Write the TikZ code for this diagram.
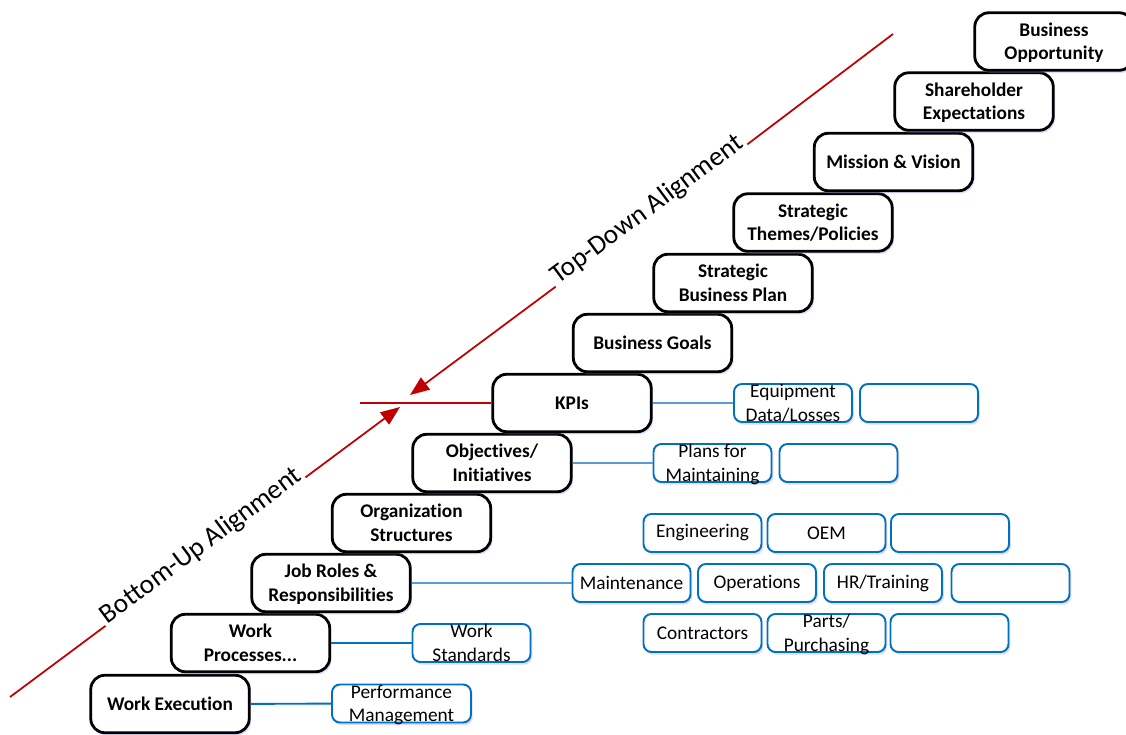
\documentclass[tikz,border=0pt]{standalone}
\usepackage{fontspec}
\setmainfont{Carlito}[Ligatures=NoCommon]
\usepackage{xcolor}
\usepackage{tikz}
\usetikzlibrary{arrows.meta, shadows}

\definecolor{alignred}{RGB}{192,0,0}
\definecolor{infoblue}{RGB}{0,112,192}
\definecolor{linkblue}{RGB}{91,155,213}

% two lines of text, centred on the box whatever the box height
\newcommand{\twolines}[2]{\smash{\raisebox{3pt}{\begin{tabular}[t]{@{}c@{}}#1\\#2\end{tabular}}}}

\begin{document}
\begin{tikzpicture}[x=0.02cm, y=-0.02cm, >={Triangle[length=11pt, width=8.5pt]},
  stair/.style={draw, line width=1.6pt, rounded corners=8pt, fill=white,
    minimum width=3.17cm, minimum height=1.15cm, inner sep=0pt,
    font=\fontsize{11}{13.5}\selectfont\bfseries,
    drop shadow={shadow xshift=1pt, shadow yshift=-1.5pt, fill=blue!45, opacity=.3}},
  infobox/.style={draw=infoblue, line width=1.1pt, rounded corners=4.5pt, fill=white,
    minimum width=2.36cm, minimum height=0.76cm, inner sep=0pt,
    font=\fontsize{11}{13.5}\selectfont,
    drop shadow={shadow xshift=1pt, shadow yshift=-1.5pt, fill=blue!45, opacity=.3}},
  infolink/.style={line width=1.1pt, linkblue},
  redline/.style={line width=1pt, alignred},
  alignlabel/.style={rotate=36.6, anchor=base, inner xsep=1.5pt, inner ysep=0pt,
    font=\fontsize{15.5}{18}\selectfont}]

  \useasboundingbox (0,0) rectangle (1126,734);

  % --- Staircase ---
  \node[stair] (we)  at (170,704)   {Work Execution};
  \node[stair] (wp)  at (250.5,643) {\twolines{Work}{Processes...}};
  \node[stair] (jr)  at (331,583)   {\twolines{Job Roles \&}{Responsibilities}};
  \node[stair] (os)  at (411.5,523) {\twolines{Organization}{Structures}};
  \node[stair] (oi)  at (492,463)   {\twolines{Objectives/}{Initiatives}};
  \node[stair] (kpi) at (572,403)   {KPIs};
  \node[stair] (bg)  at (652.5,343) {Business Goals};
  \node[stair] (sbp) at (733,283)   {\twolines{Strategic}{Business Plan}};
  \node[stair] (stp) at (813,222.5) {\twolines{Strategic}{Themes/Policies}};
  \node[stair] (mv)  at (893.5,162) {Mission \& Vision};
  \node[stair] (se)  at (974,101.5) {\twolines{Shareholder}{Expectations}};
  \node[stair] (bo)  at (1054,41.5) {\twolines{Business}{Opportunity}};

  % --- Supporting boxes ---
  \node[infobox, minimum width=2.78cm] (perf) at (401.5,703.5) {\twolines{Performance}{Management}};
  \node[infobox] (ws)    at (471.5,643) {\twolines{Work}{Standards}};
  % Job roles rows
  \node[infobox] (eng)   at (702.5,533) {Engineering};
  \node[infobox] (oem)   at (826.5,533) {OEM};
  \node[infobox] (eng3)  at (950,533)   {};
  \node[infobox] (maint) at (631.5,583) {Maintenance};
  \node[infobox] (ops)   at (757,583)   {Operations};
  \node[infobox] (hr)    at (883,583)   {HR/Training};
  \node[infobox] (maint4) at (1010.5,583) {};
  \node[infobox] (con)   at (702.5,633) {Contractors};
  \node[infobox] (parts) at (826.5,633) {\twolines{Parts/}{Purchasing}};
  \node[infobox] (con3)  at (949.5,633) {};
  % Objectives and KPIs
  \node[infobox] (plans) at (712.5,463) {\twolines{Plans for}{Maintaining}};
  \node[infobox] (plans2) at (838.5,463) {};
  \node[infobox] (equip) at (793,403)   {\twolines{Equipment}{Data/Losses}};
  \node[infobox] (equip2) at (919,403)  {};

  % Links
  \draw[infolink, infoblue] (we) -- (perf);
  \draw[infolink, infoblue] (wp) -- (ws);
  \draw[infolink] (jr) -- (maint);
  \draw[infolink] (oi) -- (plans);
  \draw[infolink] (kpi) -- (equip);

  % --- Alignment arrows ---
  \coordinate (meet) at (360,403);
  \draw[redline] (meet) -- (kpi.west);
  % bottom-up
  \coordinate (bustart) at (10,697);
  \coordinate (butip) at (400,407);
  \node[alignlabel] (bulabel) at (205.5,551.6) {Bottom-Up Alignment};
  \draw[redline] (bustart) -- (bulabel.base west);
  \draw[redline, ->] (bulabel.base east) -- (butip);
  % top-down
  \coordinate (tdstart) at (893,34);
  \coordinate (tdtip) at (410,395);
  \node[alignlabel] (tdlabel) at (651.5,215.5) {Top-Down Alignment};
  \draw[redline] (tdstart) -- (tdlabel.base east);
  \draw[redline, ->] (tdlabel.base west) -- (tdtip);
\end{tikzpicture}
\end{document}
